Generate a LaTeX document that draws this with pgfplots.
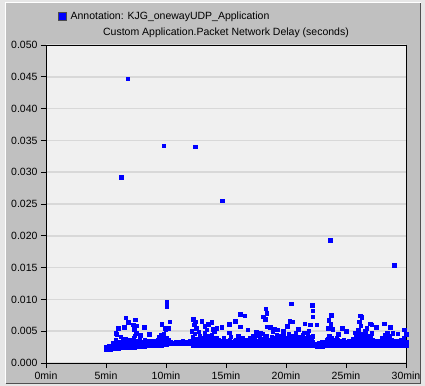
\documentclass[border=0pt]{standalone}
\usepackage{fontspec}
\setmainfont{Liberation Sans}
\usepackage{pgfplots}
\pgfplotsset{compat=1.18}
\definecolor{outerbg}{HTML}{E6E6E6}
\definecolor{panelbg}{HTML}{C0C0C0}
\definecolor{plotbg}{HTML}{F0F0F0}
\definecolor{gridc}{HTML}{D8D8D8}
\definecolor{darkedge}{HTML}{505050}
\begin{document}
\begin{tikzpicture}[x=1bp,y=1bp]
\fill[outerbg] (-46,-23) rectangle (379,363);
\fill[panelbg] (-40,-20) rectangle (375,360);
\draw[white,line width=1bp] (-40,-20) -- (-40,360) -- (375,360);
\draw[darkedge,line width=1bp] (-40,-20) -- (375,-20) -- (375,360);
\begin{axis}[
  at={(0,0)}, anchor=south west,
  scale only axis, width=360bp, height=318bp,
  xmin=0, xmax=30, ymin=0, ymax=0.05,
  xtick={0,5,10,15,20,25,30},
  xticklabels={0min,5min,10min,15min,20min,25min,30min},
  ytick={0,0.005,0.01,0.015,0.02,0.025,0.03,0.035,0.04,0.045,0.05},
  scaled y ticks=false,
  yticklabel style={/pgf/number format/.cd,fixed,fixed zerofill,precision=3,assume math mode=true},
  tick label style={font=\fontsize{10.5bp}{12bp}\selectfont, text=black},
  tick align=outside, tick pos=left,
  major tick length=5bp,
  tick style={black, line width=0.8bp},
  axis line style={black, line width=0.9bp},
  axis background/.style={fill=plotbg},
  ymajorgrids, grid style={gridc, line width=1.5bp},
  title={Custom Application.Packet Network Delay (seconds)},
  title style={at={(0.5,1)}, anchor=base, yshift=4bp, font=\fontsize{10.5bp}{12bp}\selectfont},
  legend style={at={(0.033,1.091)}, anchor=west, draw=none, fill=none, inner sep=0pt,
    font=\fontsize{10.5bp}{12bp}\selectfont,
    nodes={inner sep=1bp},
    /tikz/every odd column/.append style={column sep=3bp}},
  legend image code/.code={\filldraw[fill=blue,draw=black!70,line width=0.5bp] (0bp,-4bp) rectangle (8bp,4bp);},
]
\addplot[only marks, mark=square*, mark size=1.7bp, blue, mark options={draw=blue,fill=blue}] coordinates {
(5.0,0.0022) (5.0,0.0025)
(5.2,0.0021) (5.2,0.0024) (5.2,0.0027)
(5.4,0.0022) (5.4,0.0025)
(5.6,0.0023) (5.6,0.0027) (5.6,0.0031)
(5.8,0.0023) (5.8,0.0028) (5.8,0.0036)
(6.0,0.0023) (6.0,0.0026) (6.0,0.0033)
(6.2,0.0024) (6.2,0.0029) (6.2,0.0041)
(6.4,0.0024) (6.4,0.0027) (6.4,0.0034)
(6.6,0.0024) (6.6,0.0030) (6.6,0.0038)
(6.8,0.0025) (6.8,0.0028) (6.8,0.0032)
(7.0,0.0025) (7.0,0.0031) (7.0,0.0037)
(7.2,0.0025) (7.2,0.0029) (7.2,0.0035)
(7.4,0.0025) (7.4,0.0032) (7.4,0.0043)
(7.6,0.0026) (7.6,0.0029) (7.6,0.0034)
(7.8,0.0026) (7.8,0.0030) (7.8,0.0039)
(8.0,0.0026) (8.0,0.0029) (8.0,0.0033)
(8.2,0.0026) (8.2,0.0031) (8.2,0.0036)
(8.4,0.0027) (8.4,0.0029)
(8.6,0.0027) (8.6,0.0030) (8.6,0.0034)
(8.8,0.0027) (8.8,0.0030)
(9.0,0.0027) (9.0,0.0031) (9.0,0.0035)
(9.2,0.0028) (9.2,0.0030)
(9.4,0.0028) (9.4,0.0033) (9.4,0.0041)
(9.6,0.0028) (9.6,0.0034) (9.6,0.0044)
(9.8,0.0029) (9.8,0.0035) (9.8,0.0045)
(10.0,0.0029) (10.0,0.0033) (10.0,0.0040)
(10.2,0.0030) (10.2,0.0033) (10.2,0.0037)
(10.4,0.0030) (10.4,0.0033)
(10.6,0.0030) (10.6,0.0032)
(10.8,0.0031) (10.8,0.0033)
(11.0,0.0031) (11.0,0.0033)
(11.2,0.0031) (11.2,0.0033)
(11.4,0.0031) (11.4,0.0034)
(11.6,0.0031) (11.6,0.0033)
(11.8,0.0031) (11.8,0.0033)
(12.0,0.0031) (12.0,0.0034)
(12.2,0.0028) (12.2,0.0033) (12.2,0.0041)
(12.4,0.0028) (12.4,0.0035) (12.4,0.0046)
(12.6,0.0027) (12.6,0.0031) (12.6,0.0038)
(12.8,0.0028) (12.8,0.0034) (12.8,0.0043)
(13.0,0.0028) (13.0,0.0032) (13.0,0.0039)
(13.2,0.0027) (13.2,0.0036) (13.2,0.0047)
(13.4,0.0028) (13.4,0.0031) (13.4,0.0037)
(13.6,0.0028) (13.6,0.0033) (13.6,0.0042)
(13.8,0.0027) (13.8,0.0035) (13.8,0.0044)
(14.0,0.0028) (14.0,0.0032) (14.0,0.0038)
(14.2,0.0028) (14.2,0.0034) (14.2,0.0040)
(14.4,0.0027) (14.4,0.0031) (14.4,0.0036)
(14.6,0.0028) (14.6,0.0033)
(14.8,0.0028) (14.8,0.0031) (14.8,0.0039)
(15.0,0.0027) (15.0,0.0032)
(15.2,0.0028) (15.2,0.0030) (15.2,0.0035)
(15.4,0.0028) (15.4,0.0033) (15.4,0.0041)
(15.6,0.0027) (15.6,0.0031)
(15.8,0.0028) (15.8,0.0032) (15.8,0.0037)
(16.0,0.0028) (16.0,0.0034) (16.0,0.0043)
(16.2,0.0027) (16.2,0.0031)
(16.4,0.0028) (16.4,0.0033) (16.4,0.0039)
(16.6,0.0027) (16.6,0.0031) (16.6,0.0036)
(16.8,0.0028) (16.8,0.0034)
(17.0,0.0028) (17.0,0.0032) (17.0,0.0040)
(17.2,0.0027) (17.2,0.0035) (17.2,0.0042)
(17.4,0.0028) (17.4,0.0031) (17.4,0.0037)
(17.6,0.0028) (17.6,0.0033) (17.6,0.0044)
(17.8,0.0027) (17.8,0.0036) (17.8,0.0041)
(18.0,0.0028) (18.0,0.0034) (18.0,0.0046)
(18.2,0.0028) (18.2,0.0032) (18.2,0.0039)
(18.4,0.0027) (18.4,0.0035) (18.4,0.0043)
(18.6,0.0028) (18.6,0.0031) (18.6,0.0037)
(18.8,0.0028) (18.8,0.0033) (18.8,0.0041)
(19.0,0.0027) (19.0,0.0035) (19.0,0.0039)
(19.2,0.0028) (19.2,0.0032) (19.2,0.0044)
(19.4,0.0028) (19.4,0.0034) (19.4,0.0038)
(19.6,0.0027) (19.6,0.0031) (19.6,0.0042)
(19.8,0.0028) (19.8,0.0036) (19.8,0.0047)
(20.0,0.0028) (20.0,0.0033) (20.0,0.0040)
(20.2,0.0027) (20.2,0.0035) (20.2,0.0045)
(20.4,0.0028) (20.4,0.0032) (20.4,0.0038)
(20.6,0.0028) (20.6,0.0034) (20.6,0.0043)
(20.8,0.0027) (20.8,0.0031) (20.8,0.0037)
(21.0,0.0028) (21.0,0.0033) (21.0,0.0041)
(21.2,0.0028) (21.2,0.0035) (21.2,0.0039)
(21.4,0.0027) (21.4,0.0032) (21.4,0.0044)
(21.6,0.0028) (21.6,0.0034) (21.6,0.0040)
(21.8,0.0028) (21.8,0.0036) (21.8,0.0046)
(22.0,0.0027) (22.0,0.0031) (22.0,0.0038)
(22.2,0.0028) (22.2,0.0033) (22.2,0.0042)
(22.4,0.0027) (22.4,0.0030)
(22.6,0.0026) (22.6,0.0029)
(22.8,0.0026) (22.8,0.0030)
(23.0,0.0026) (23.0,0.0029) (23.0,0.0033)
(23.2,0.0027) (23.2,0.0030)
(23.4,0.0027) (23.4,0.0032) (23.4,0.0036)
(23.6,0.0028) (23.6,0.0034) (23.6,0.0042)
(23.8,0.0028) (23.8,0.0033) (23.8,0.0039)
(24.0,0.0027) (24.0,0.0031) (24.0,0.0036)
(24.2,0.0028) (24.2,0.0033) (24.2,0.0040)
(24.4,0.0028) (24.4,0.0031)
(24.6,0.0027) (24.6,0.0030) (24.6,0.0034)
(24.8,0.0028) (24.8,0.0032) (24.8,0.0037)
(25.0,0.0027) (25.0,0.0030)
(25.2,0.0028) (25.2,0.0031) (25.2,0.0035)
(25.4,0.0027) (25.4,0.0030)
(25.6,0.0028) (25.6,0.0033) (25.6,0.0038)
(25.8,0.0028) (25.8,0.0035) (25.8,0.0043)
(26.0,0.0027) (26.0,0.0034) (26.0,0.0047)
(26.2,0.0028) (26.2,0.0036) (26.2,0.0041)
(26.4,0.0028) (26.4,0.0032) (26.4,0.0039)
(26.6,0.0027) (26.6,0.0035) (26.6,0.0044)
(26.8,0.0028) (26.8,0.0031) (26.8,0.0037)
(27.0,0.0028) (27.0,0.0033) (27.0,0.0042)
(27.2,0.0027) (27.2,0.0030) (27.2,0.0036)
(27.4,0.0028) (27.4,0.0032)
(27.6,0.0028) (27.6,0.0030) (27.6,0.0035)
(27.8,0.0027) (27.8,0.0031)
(28.0,0.0028) (28.0,0.0033) (28.0,0.0040)
(28.2,0.0028) (28.2,0.0035) (28.2,0.0044)
(28.4,0.0027) (28.4,0.0031) (28.4,0.0038)
(28.6,0.0028) (28.6,0.0033) (28.6,0.0042)
(28.8,0.0028) (28.8,0.0030) (28.8,0.0036)
(29.0,0.0027) (29.0,0.0032)
(29.2,0.0028) (29.2,0.0031) (29.2,0.0035)
(29.4,0.0028) (29.4,0.0030)
(29.6,0.0027) (29.6,0.0032) (29.6,0.0037)
(29.8,0.0028) (29.8,0.0031) (29.8,0.0039)
(30.0,0.0028) (30.0,0.0033) (30.0,0.0045)
(5.1,0.0023) (5.3,0.0023) (5.5,0.0024) (5.7,0.0025) (5.9,0.0031) (6.1,0.0025) (6.3,0.0032) (6.5,0.0026)
(6.7,0.0034) (6.9,0.0026) (7.1,0.0027) (7.3,0.0039) (7.5,0.0027) (7.7,0.0031) (7.9,0.0027) (8.1,0.0028)
(8.3,0.0033) (8.5,0.0028) (8.7,0.0029) (8.9,0.0028) (9.1,0.0029) (9.3,0.0036) (9.5,0.0030) (9.7,0.0038)
(9.9,0.0031) (10.1,0.0035)
(12.3,0.0037) (12.5,0.0030) (12.7,0.0035) (12.9,0.0038) (13.1,0.0030) (13.3,0.0041) (13.5,0.0034) (13.7,0.0029)
(13.9,0.0039) (14.1,0.0035) (14.3,0.0030) (14.5,0.0034) (14.7,0.0029) (14.9,0.0035) (15.1,0.0030) (15.3,0.0037)
(15.5,0.0029) (15.7,0.0034) (15.9,0.0030) (16.1,0.0038) (16.3,0.0029) (16.5,0.0035) (16.7,0.0030) (16.9,0.0037)
(17.1,0.0029) (17.3,0.0039) (17.5,0.0034) (17.7,0.0030) (17.9,0.0038) (18.1,0.0030) (18.3,0.0040) (18.5,0.0030)
(18.7,0.0036) (18.9,0.0030) (19.1,0.0038) (19.3,0.0030) (19.5,0.0036) (19.7,0.0039) (19.9,0.0030) (20.1,0.0038)
(20.3,0.0030) (20.5,0.0036) (20.7,0.0039) (20.9,0.0030) (21.1,0.0037) (21.3,0.0030) (21.5,0.0038) (21.7,0.0030)
(21.9,0.0041) (22.1,0.0035) (22.3,0.0029) (22.5,0.0028) (22.7,0.0031) (22.9,0.0028) (23.1,0.0031) (23.3,0.0029)
(23.5,0.0038) (23.7,0.0030) (23.9,0.0036) (24.1,0.0029) (24.3,0.0036) (24.5,0.0029) (24.7,0.0032) (24.9,0.0029)
(25.1,0.0033) (25.3,0.0029) (25.5,0.0032) (25.7,0.0030) (25.9,0.0039) (26.1,0.0030) (26.3,0.0038) (26.5,0.0030)
(26.7,0.0039) (26.9,0.0034) (27.1,0.0030) (27.3,0.0035) (27.5,0.0029) (27.7,0.0033) (27.9,0.0029) (28.1,0.0037)
(28.3,0.0030) (28.5,0.0035) (28.7,0.0030) (28.9,0.0034) (29.1,0.0029) (29.3,0.0033) (29.5,0.0029) (29.7,0.0034)
(29.9,0.0030)
(5.83,0.0047) (5.89,0.0045) (6.03,0.0055) (6.5,0.0056) (6.64,0.0071) (6.86,0.0064)
(7.42,0.0068) (7.28,0.0060) (7.55,0.0059) (7.36,0.0053) (7.5,0.0047) (8.19,0.0056)
(9.64,0.0061) (10.33,0.0065) (9.92,0.0055) (10.19,0.0055) (9.97,0.0052)
(10.05,0.0096) (10.05,0.0089)
(12.28,0.0069) (12.42,0.0065) (12.36,0.0060) (12.5,0.0055) (12.14,0.0050)
(12.97,0.0066) (13.53,0.0061) (13.81,0.0064) (13.94,0.0053) (14.22,0.0055) (14.64,0.0056)
(15.28,0.0061) (15.28,0.0048) (15.75,0.0066) (16.17,0.0077) (16.58,0.0074) (16.17,0.0057)
(18.31,0.0085) (18.39,0.0078) (18.11,0.0073) (18.25,0.0069) (18.39,0.0057) (18.67,0.0056)
(19.28,0.0052) (19.78,0.0050) (20.11,0.0058) (20.33,0.0066) (20.56,0.0065) (20.42,0.0093)
(21.5,0.0048) (21.58,0.0062) (22.0,0.0060) (22.56,0.0060) (22.19,0.0091) (22.22,0.0082) (22.22,0.0073)
(23.53,0.0055) (23.58,0.0067) (23.72,0.0061) (23.75,0.0075) (23.89,0.0053) (24.36,0.0045)
(24.69,0.0055) (25.0,0.0050)
(26.03,0.0052) (26.11,0.0065) (26.17,0.0074) (26.22,0.0059) (26.31,0.0072) (26.44,0.0045)
(26.72,0.0055) (27.0,0.0062) (27.14,0.0060) (27.14,0.0047) (27.5,0.0056) (28.17,0.0062)
(28.44,0.0048) (28.67,0.0056) (29.86,0.0052)
(13.2,0.0058) (14.0,0.0050) (16.8,0.0052) (17.5,0.0049) (19.0,0.0054) (21.0,0.0053) (25.7,0.0048) (29.3,0.0046)
(12.7,0.0049) (13.4,0.0052) (17.9,0.0048) (18.9,0.0050) (20.8,0.0047) (21.9,0.0051) (26.6,0.0050) (28.9,0.0047)
(8.6,0.0045) (7.9,0.0044)
(6.25,0.0292) (6.83,0.0447) (9.83,0.0342) (12.42,0.0340) (14.67,0.0255) (23.67,0.0193) (29.0,0.0154)
};
\addlegendentry{Annotation: KJG\_onewayUDP\_Application}
\end{axis}
\pgfresetboundingbox
\useasboundingbox (-46,-23) rectangle (379,363);
\end{tikzpicture}
\end{document}
